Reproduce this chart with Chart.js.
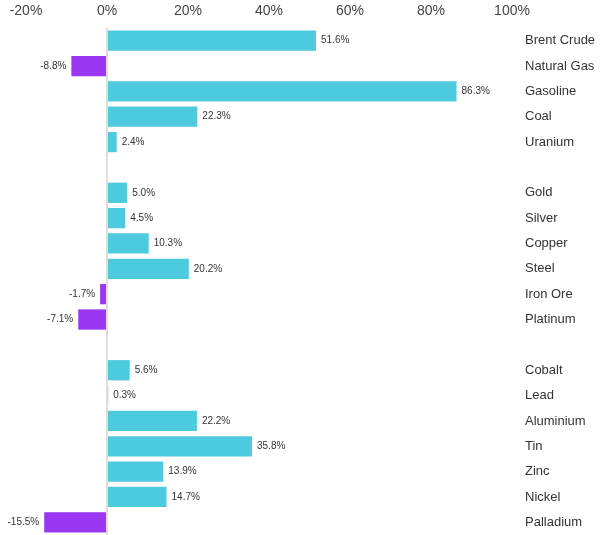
<!DOCTYPE html>
<html>
<head>
<meta charset="utf-8">
<script src="https://cdn.jsdelivr.net/npm/chart.js@4.4.1/dist/chart.umd.min.js"></script>
<style>
  html, body { margin: 0; padding: 0; background: #fff; }
  #wrap { width: 605px; height: 535px; }
</style>
</head>
<body>
<div id="wrap"><canvas id="chart" width="605" height="535"></canvas></div>
<script>
// categories ('' = gap between groups)
const commodities = [
    'Brent Crude', 'Natural Gas', 'Gasoline', 'Coal', 'Uranium', '',
    'Gold', 'Silver', 'Copper', 'Steel', 'Iron Ore', 'Platinum', '',
    'Cobalt', 'Lead', 'Aluminium', 'Tin', 'Zinc', 'Nickel', 'Palladium'
];
// % change
const changes = [
    51.6, -8.8, 86.3, 22.3, 2.4, null,
    5.0, 4.5, 10.3, 20.2, -1.7, -7.1, null,
    5.6, 0.3, 22.2, 35.8, 13.9, 14.7, -15.5
];
const xTicks = [-20, 0, 20, 40, 60, 80, 100];

const upColor = '#4ecadf';
const downColor = '#9b36f2';

// draws the value next to each bar
const valueLabels = {
    id: 'valueLabels',
    afterDatasetsDraw(chart) {
        const ctx = chart.ctx;
        const meta = chart.getDatasetMeta(0);
        ctx.save();
        ctx.font = '10px "Liberation Sans", Arial, sans-serif';
        ctx.fillStyle = '#333';
        ctx.textBaseline = 'middle';
        meta.data.forEach((bar, i) => {
            const v = changes[i];
            if (v === null) return;
            const txt = v.toFixed(1) + '%';
            if (v >= 0) {
                ctx.textAlign = 'left';
                ctx.fillText(txt, bar.x + 5, bar.y);
            } else {
                ctx.textAlign = 'right';
                ctx.fillText(txt, bar.x - 5, bar.y);
            }
        });
        ctx.restore();
    }
};

new Chart(document.getElementById('chart'), {
    type: 'bar',
    data: {
        labels: commodities,
        datasets: [{
            data: changes,
            backgroundColor: changes.map(v => (v !== null && v < 0) ? downColor : upColor),
            categoryPercentage: 1,
            barPercentage: 0.8,
            borderWidth: 0
        }]
    },
    options: {
        indexAxis: 'y',
        responsive: false,
        animation: false,
        layout: { padding: { left: 26, right: 0, top: 0, bottom: 0 } },
        plugins: {
            legend: { display: false },
            tooltip: { enabled: false }
        },
        scales: {
            x: {
                position: 'top',
                min: -20,
                max: 100,
                afterBuildTicks: axis => { axis.ticks = xTicks.map(v => ({ value: v })); },
                afterFit: axis => { axis.height = 28; },
                border: { display: false },
                grid: {
                    drawTicks: false,
                    lineWidth: 2,
                    color: c => (c.tick && c.tick.value === 0) ? '#dddddd' : 'rgba(0,0,0,0)'
                },
                ticks: {
                    padding: 8,
                    maxRotation: 0,
                    color: '#444',
                    font: { family: '"Liberation Sans", Arial, sans-serif', size: 14 },
                    callback: v => v + '%'
                }
            },
            y: {
                position: 'right',
                afterFit: axis => {
                    axis.width = 93;
                    // let the bars run to the bottom edge like the original
                    axis.paddingTop = 0;
                    axis.paddingBottom = 0;
                },
                border: { display: false },
                grid: { display: false, drawTicks: false },
                ticks: {
                    padding: 13,
                    autoSkip: false,
                    color: '#333',
                    font: { family: '"Liberation Sans", Arial, sans-serif', size: 13 }
                }
            }
        }
    },
    plugins: [valueLabels]
});
</script>
</body>
</html>
